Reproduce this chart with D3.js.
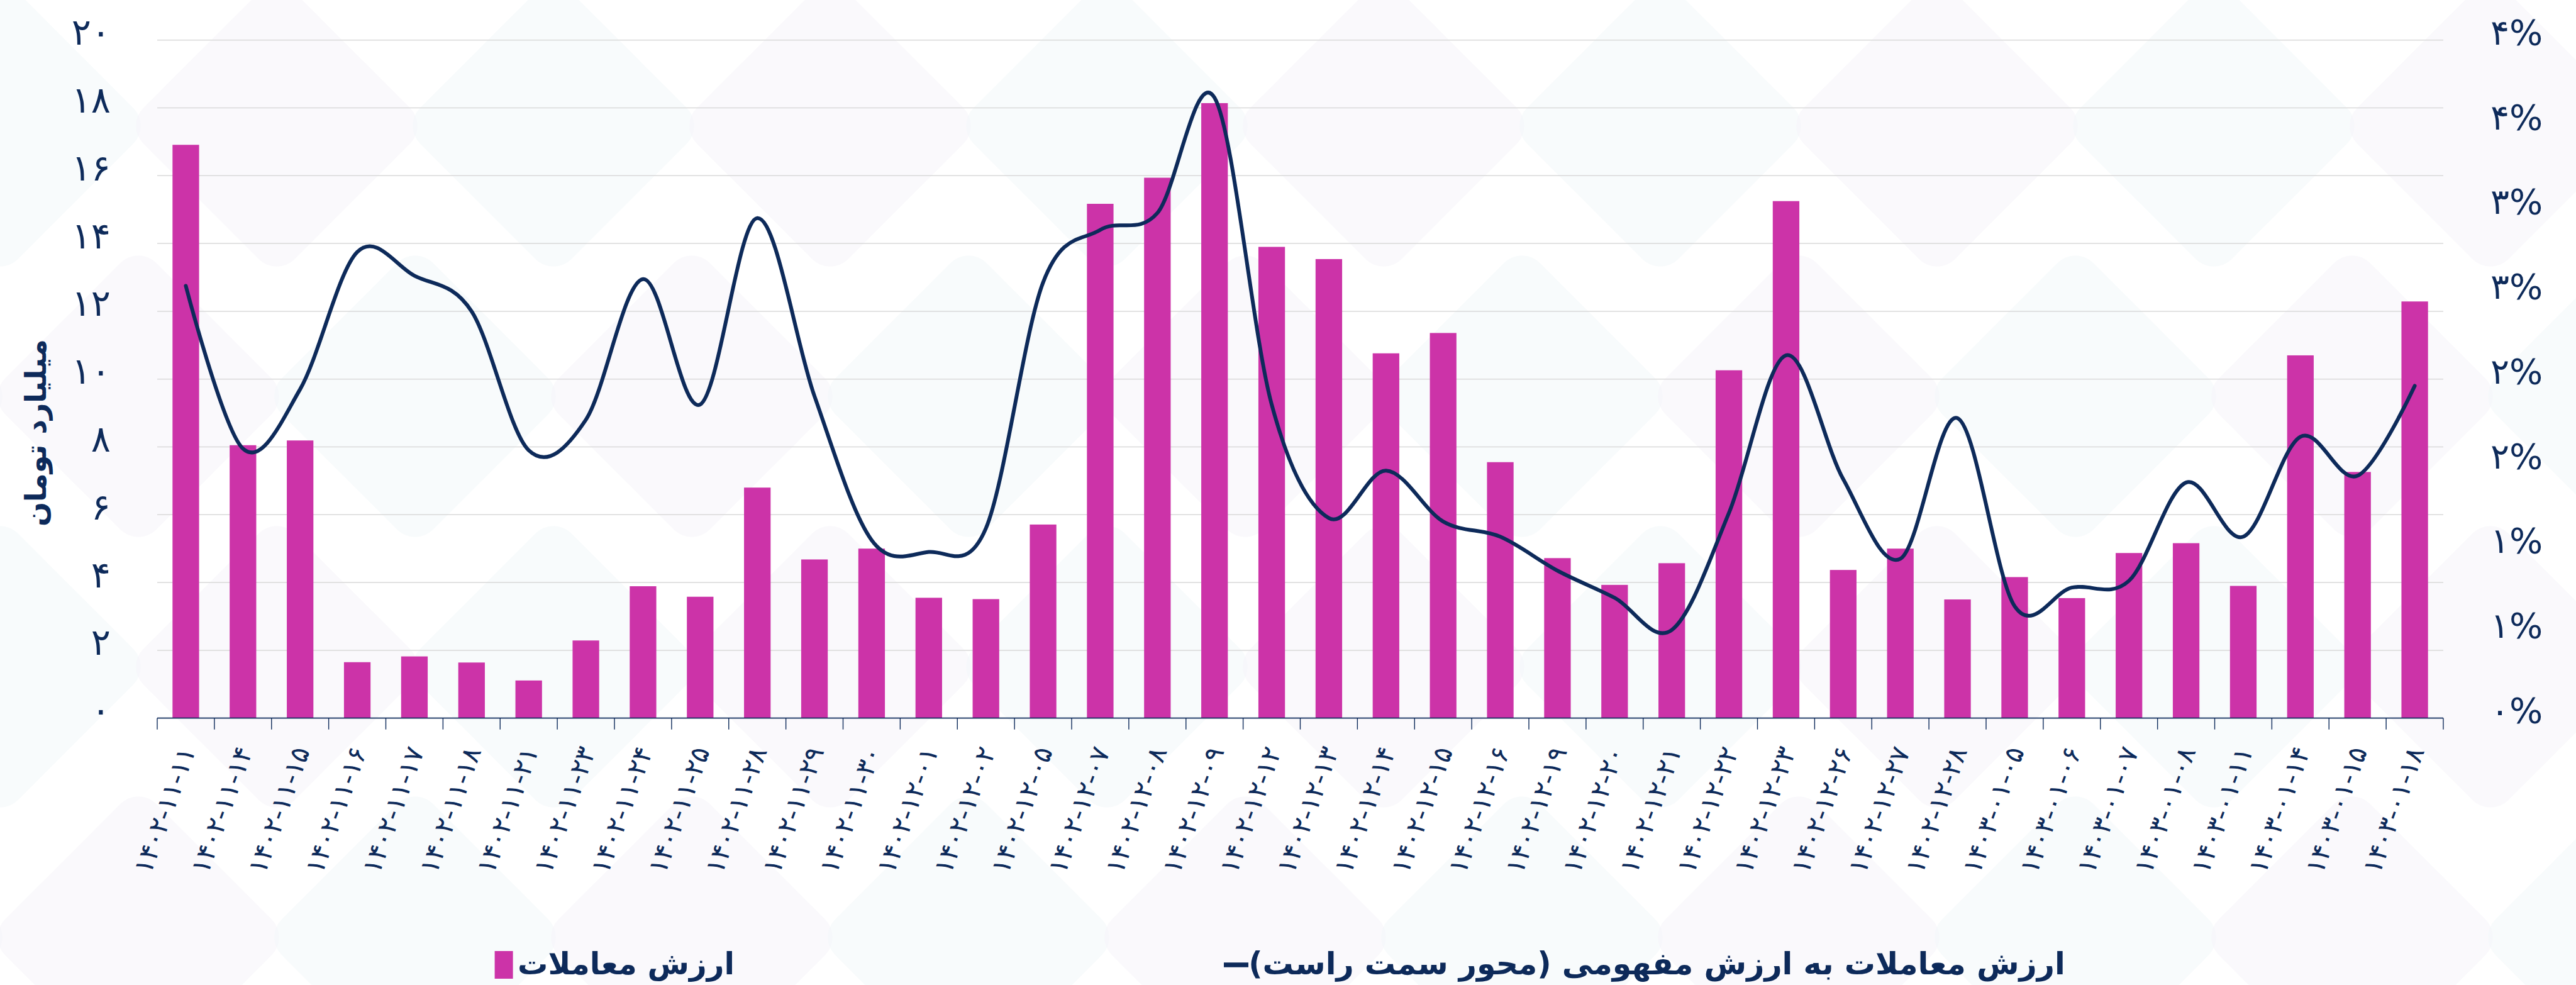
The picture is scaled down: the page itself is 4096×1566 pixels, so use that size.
<!DOCTYPE html>
<html>
<head>
<meta charset="utf-8">
<script src="https://cdn.jsdelivr.net/npm/d3@7"></script>
<style>
  html, body { margin: 0; padding: 0; background: #fff; }
  svg { display: block; }
  text { font-family: "DejaVu Sans", sans-serif; fill: #0d2a5a; }
</style>
</head>
<body>
<div id="chart"></div>
<script>
// تاریخ معاملات
const dates = [
  '1402-11-11', '1402-11-14', '1402-11-15', '1402-11-16', '1402-11-17', '1402-11-18',
  '1402-11-21', '1402-11-23', '1402-11-24', '1402-11-25', '1402-11-28', '1402-11-29',
  '1402-11-30', '1402-12-01', '1402-12-02', '1402-12-05', '1402-12-07', '1402-12-08',
  '1402-12-09', '1402-12-12', '1402-12-13', '1402-12-14', '1402-12-15', '1402-12-16',
  '1402-12-19', '1402-12-20', '1402-12-21', '1402-12-22', '1402-12-23', '1402-12-26',
  '1402-12-27', '1402-12-28', '1403-01-05', '1403-01-06', '1403-01-07', '1403-01-08',
  '1403-01-11', '1403-01-14', '1403-01-15', '1403-01-18'
];
// ارزش معاملات (میلیارد تومان)
const tradeValue = [
  16.91, 8.05, 8.19, 1.65, 1.82, 1.64, 1.11, 2.29, 3.89, 3.58,
  6.80, 4.68, 5.00, 3.55, 3.51, 5.71, 15.17, 15.94, 18.14, 13.90,
  13.54, 10.76, 11.36, 7.55, 4.72, 3.93, 4.57, 10.26, 15.25, 4.37,
  5.00, 3.50, 4.16, 3.54, 4.87, 5.16, 3.90, 10.70, 7.26, 12.29
];
// ارزش معاملات به ارزش مفهومی (درصد)
const tradeRatio = [
  2.55, 1.59, 1.94, 2.75, 2.61, 2.40, 1.58, 1.76, 2.59, 1.85,
  2.95, 1.90, 1.05, 0.98, 1.12, 2.57, 2.88, 2.98, 3.66, 1.85,
  1.18, 1.46, 1.16, 1.07, 0.87, 0.71, 0.52, 1.21, 2.14, 1.41,
  0.94, 1.77, 0.66, 0.77, 0.81, 1.39, 1.07, 1.66, 1.43, 1.96
];
const leftTicks = [0, 2, 4, 6, 8, 10, 12, 14, 16, 18, 20];
const rightTicks = [0, 0.5, 1, 1.5, 2, 2.5, 3, 3.5, 4];

const yTitle = 'میلیارد تومان';
const barLegend = 'ارزش معاملات';
const lineLegend = 'ارزش معاملات به ارزش مفهومی (محور سمت راست)';

const fa = s => String(s).replace(/\d/g, d => '۰۱۲۳۴۵۶۷۸۹'[d]);

const width = 4096, height = 1566;
const plot = { left: 250, right: 3885, top: 63.7, bottom: 1141.7 };
const navy = '#0d2a5a';
const magenta = '#cc33a8';

const svg = d3.select('#chart').append('svg')
  .attr('width', width)
  .attr('height', height);

// faint background pattern
const bg = svg.append('g');
for (let j = -1; j < 4; j++) {
  for (let i = -1; i < 11; i++) {
    const cx = i * 440 + (j % 2 ? 220 : 0);
    const cy = j * 430 + 200;
    bg.append('rect')
      .attr('x', -170).attr('y', -170)
      .attr('width', 340).attr('height', 340)
      .attr('rx', 40)
      .attr('transform', `translate(${cx},${cy}) rotate(45)`)
      .attr('fill', (i + j) % 2 ? '#f6f4f9' : '#f3f8fa')
      .attr('opacity', 0.55);
  }
}

const x = d3.scaleBand()
  .domain(dates)
  .range([plot.left, plot.right])
  .padding(0);

const yL = d3.scaleLinear().domain([0, 20]).range([plot.bottom, plot.top]);
const yR = d3.scaleLinear().domain([0, 4]).range([plot.bottom, plot.top]);

// grid
svg.append('g')
  .selectAll('line')
  .data(leftTicks.filter(d => d > 0))
  .enter()
  .append('line')
  .attr('x1', plot.left).attr('x2', plot.right)
  .attr('y1', d => yL(d)).attr('y2', d => yL(d))
  .attr('stroke', '#d9d9d9')
  .attr('stroke-width', 1.5);

// bars
const barW = x.bandwidth() * 0.465;
svg.append('g')
  .selectAll('rect')
  .data(tradeValue)
  .enter()
  .append('rect')
  .attr('x', (d, i) => x(dates[i]) + (x.bandwidth() - barW) / 2)
  .attr('y', d => yL(d))
  .attr('width', barW)
  .attr('height', d => yL(0) - yL(d))
  .attr('fill', magenta);

// x axis line + ticks
const xa = svg.append('g');
xa.append('line')
  .attr('x1', plot.left).attr('x2', plot.right)
  .attr('y1', plot.bottom).attr('y2', plot.bottom)
  .attr('stroke', navy).attr('stroke-width', 1.8);
xa.selectAll('line.tick')
  .data(dates.map(d => x(d)).concat([plot.right]))
  .enter()
  .append('line')
  .attr('class', 'tick')
  .attr('x1', d => d).attr('x2', d => d)
  .attr('y1', plot.bottom).attr('y2', plot.bottom + 18)
  .attr('stroke', navy).attr('stroke-width', 1.4);

xa.selectAll('text')
  .data(dates)
  .enter()
  .append('text')
  .attr('transform', d => `translate(${x(d) + x.bandwidth() / 2 + 16},${plot.bottom + 52}) rotate(-70)`)
  .attr('text-anchor', 'end')
  .style('font-size', '42px')
  .text(d => fa(d));

// left axis
const axL = svg.append('g')
  .attr('transform', `translate(${plot.left},0)`)
  .call(d3.axisLeft(yL).tickValues(leftTicks).tickFormat(fa).tickSize(0).tickPadding(74));
axL.select('.domain').remove();
axL.selectAll('text')
  .attr('dy', '0.12em')
  .style('font-size', '58px')
  .style('font-family', '"DejaVu Sans", sans-serif')
  .attr('fill', navy);

// right axis
const axR = svg.append('g')
  .attr('transform', `translate(${plot.right},0)`)
  .call(d3.axisRight(yR).tickValues(rightTicks).tickFormat(d => fa(Math.round(d)) + '%').tickSize(0).tickPadding(75));
axR.select('.domain').remove();
axR.selectAll('text')
  .attr('dy', '0.12em')
  .style('font-size', '56px')
  .style('font-family', '"DejaVu Sans", sans-serif')
  .attr('fill', navy);

// line
const line = d3.line()
  .x((d, i) => x(dates[i]) + x.bandwidth() / 2)
  .y(d => yR(d))
  .curve(d3.curveCardinal.tension(0));

svg.append('path')
  .datum(tradeRatio)
  .attr('d', line)
  .attr('fill', 'none')
  .attr('stroke', navy)
  .attr('stroke-width', 6)
  .attr('stroke-linecap', 'round');

// fit bold text to a target width
function fit(sel, target, start) {
  sel.style('font-size', start + 'px');
  const w = sel.node().getComputedTextLength();
  sel.style('font-size', (start * target / w) + 'px');
}

// y title
const yt = svg.append('text')
  .attr('transform', 'translate(57,688) rotate(-90)')
  .attr('text-anchor', 'middle')
  .attr('dominant-baseline', 'central')
  .style('font-weight', 'bold')
  .attr('direction', 'rtl')
  .text(yTitle);
fit(yt, 298, 50);

// legend
const lg = svg.append('g');
lg.append('rect')
  .attr('x', 786.6).attr('y', 1512)
  .attr('width', 29).attr('height', 44)
  .attr('fill', magenta);
const t1 = lg.append('text')
  .attr('x', (823 + 1168) / 2).attr('y', 1532)
  .attr('text-anchor', 'middle')
  .attr('dominant-baseline', 'central')
  .attr('direction', 'rtl')
  .style('font-weight', 'bold')
  .text(barLegend);
fit(t1, 345, 50);

lg.append('line')
  .attr('x1', 1946).attr('x2', 1985)
  .attr('y1', 1534).attr('y2', 1534)
  .attr('stroke', navy).attr('stroke-width', 7.6);
const t2 = lg.append('text')
  .attr('x', (1985 + 3284) / 2).attr('y', 1532)
  .attr('text-anchor', 'middle')
  .attr('dominant-baseline', 'central')
  .attr('direction', 'rtl')
  .style('font-weight', 'bold')
  .text(lineLegend);
fit(t2, 1299, 50);
</script>
</body>
</html>
